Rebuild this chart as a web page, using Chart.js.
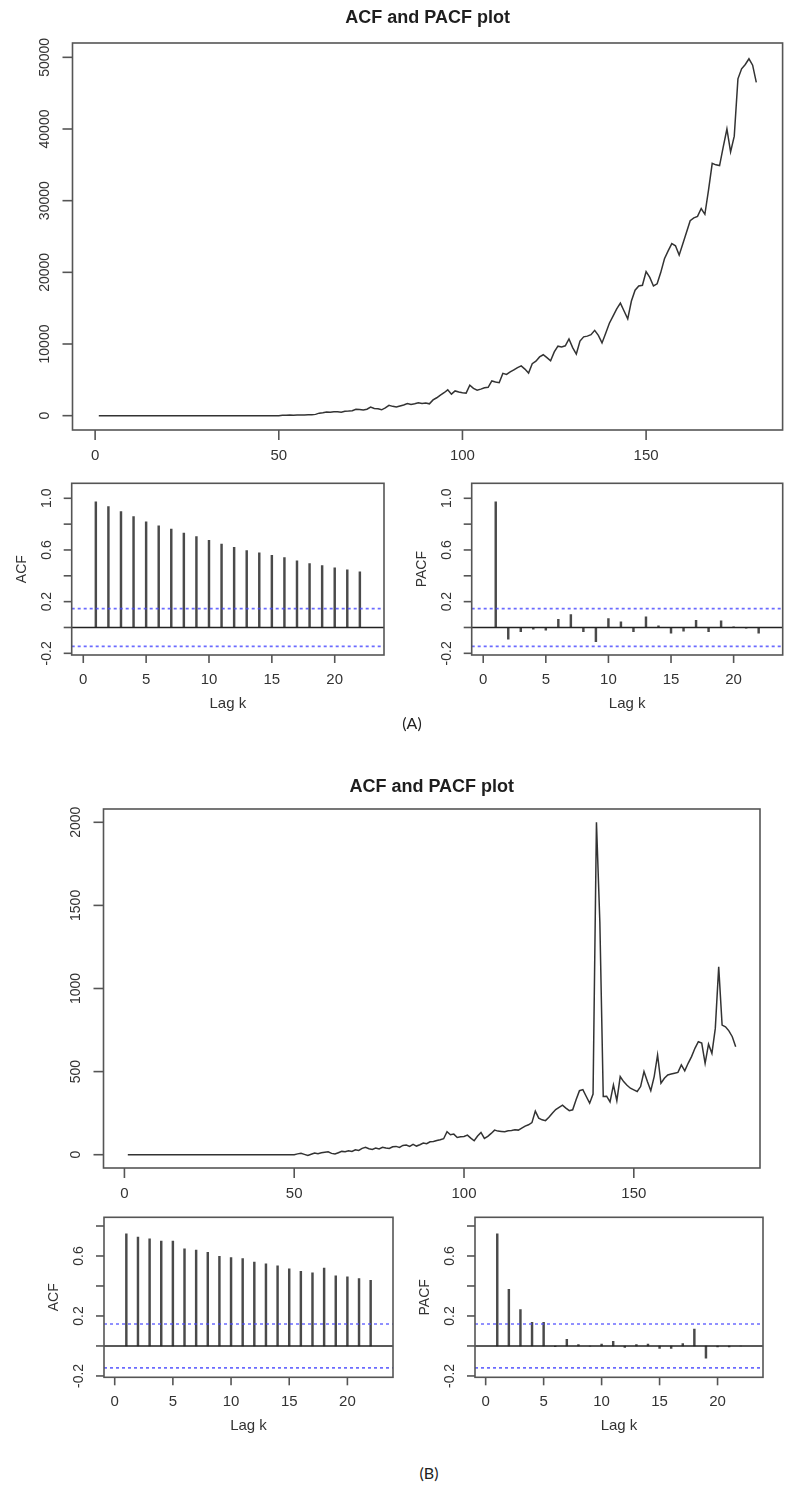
<!DOCTYPE html>
<html>
<head>
<meta charset="utf-8">
<title>ACF and PACF plot</title>
<script src="https://cdn.jsdelivr.net/npm/chart.js@4.4.1/dist/chart.umd.min.js"></script>
<style>
  body { margin: 0; background: #fff; }
  #page { position: relative; width: 788px; height: 1490px; background: #fff; overflow: hidden; }
  #page canvas { position: absolute; }
  .tag { position: absolute; font: 16px Lato, "Open Sans", sans-serif; color: #222; transform: translate(-50%, -50%); }
</style>
</head>
<body>
<div id="page">
  <canvas id="seriesA"></canvas>
  <canvas id="acfA"></canvas>
  <canvas id="pacfA"></canvas>
  <canvas id="seriesB"></canvas>
  <canvas id="acfB"></canvas>
  <canvas id="pacfB"></canvas>
  <div class="tag" style="left:412px;top:722px">(A)</div>
  <div class="tag" style="left:429px;top:1472px">(B)</div>
</div>
<script>
// monthly series, t = 1..180
const seriesAValues = [
  0,0,0,0,0,0,0,0,0,0, 0,0,0,0,0,0,0,0,0,0,
  0,0,0,0,0,0,0,0,0,0, 0,0,0,0,0,0,0,0,0,0,
  0,0,0,0,0,0,0,0,0,0,
  60,70,80,75,90,100,110,120,140,180,
  350,420,520,480,560,530,480,600,640,700,
  900,850,800,900,1200,1000,950,820,1100,1450,
  1300,1200,1350,1500,1700,1550,1650,1800,1700,1750,
  1650,2200,2500,2850,3200,3600,3000,3450,3300,3200,
  3150,4250,3800,3550,3700,3900,3950,4850,4700,4600,
  5900,5750,6100,6400,6700,6950,6500,5950,7250,7600,
  8200,8500,8100,7650,8900,9700,9600,9750,10700,9500,
  8600,10400,11000,11100,11300,11900,11200,10150,11500,12900,
  13900,14900,15700,14600,13500,16000,17500,18100,18200,20100,
  19300,18100,18400,20000,21900,23000,24000,23700,22400,24000,
  25600,27200,27600,27800,28900,28100,31500,35200,35000,34900,
  37500,40000,36800,39000,47000,48400,49000,49800,48900,46500
];
const seriesBValues = [
  0,0,0,0,0,0,0,0,0,0, 0,0,0,0,0,0,0,0,0,0,
  0,0,0,0,0,0,0,0,0,0, 0,0,0,0,0,0,0,0,0,0,
  0,0,0,0,0,0,0,0,0,0,
  5,8,2,-5,3,10,6,12,15,18,
  8,4,12,20,18,24,20,30,26,38,
  44,36,32,40,35,45,40,38,48,50,
  44,56,58,50,62,52,60,70,66,78,
  80,86,90,96,138,120,124,104,108,110,
  118,100,84,112,134,98,110,128,148,142,
  140,138,144,146,150,148,160,172,180,193,
  262,220,210,205,225,250,272,285,298,280,
  265,270,330,385,392,350,310,365,2000,1400,
  350,352,318,420,325,470,440,418,400,390,
  380,410,500,440,385,470,600,430,460,480,
  485,490,495,540,505,550,590,640,680,672,
  550,665,610,760,1130,780,770,745,710,650
];

const lags = [1,2,3,4,5,6,7,8,9,10,11,12,13,14,15,16,17,18,19,20,21,22];
const acfAValues  = [0.972,0.936,0.897,0.859,0.818,0.787,0.762,0.731,0.703,0.674,0.646,0.621,0.595,0.577,0.559,0.541,0.515,0.495,0.479,0.462,0.446,0.431];
const pacfAValues = [0.972,-0.090,-0.033,-0.013,-0.020,0.064,0.100,-0.033,-0.110,0.069,0.044,-0.033,0.082,0.013,-0.044,-0.028,0.056,-0.033,0.051,0.005,-0.005,-0.044];
const acfBValues  = [0.748,0.726,0.715,0.699,0.699,0.647,0.640,0.625,0.598,0.589,0.582,0.560,0.548,0.535,0.515,0.497,0.488,0.519,0.467,0.461,0.449,0.438];
const pacfBValues = [0.748,0.378,0.243,0.157,0.157,-0.004,0.045,0.009,-0.002,0.013,0.031,-0.009,0.009,0.013,-0.016,-0.016,0.016,0.112,-0.081,-0.007,-0.007,0.000];
const confLimit = 0.146;   // 1.96 / sqrt(180)

const timeTicks = [0, 50, 100, 150];
const seriesATicks = [0, 10000, 20000, 30000, 40000, 50000];
const seriesBTicks = [0, 500, 1000, 1500, 2000];
const lagTicks = [0, 5, 10, 15, 20];
const corrTicksA = [-0.2, 0, 0.2, 0.4, 0.6, 0.8, 1.0];
const corrLabelsA = ['-0.2', '', '0.2', '', '0.6', '', '1.0'];
const corrTicksB = [-0.2, 0, 0.2, 0.4, 0.6, 0.8];
const corrLabelsB = ['-0.2', '', '0.2', '', '0.6', ''];

const FONT = '"Liberation Sans", Arial, Helvetica, sans-serif';
const lagRange = [-0.92, 23.92];

// base-graphics look: box, outward ticks, rotated y labels
const rStyle = {
  id: 'rStyle',
  afterDraw(chart, args, o) {
    const { ctx, chartArea: a, scales: { x, y } } = chart;
    ctx.save();
    ctx.strokeStyle = '#555';
    ctx.lineWidth = 1.6;
    ctx.strokeRect(a.left, a.top, a.right - a.left, a.bottom - a.top);

    ctx.fillStyle = '#333';
    ctx.font = '15px ' + FONT;
    ctx.textAlign = 'center';
    ctx.textBaseline = 'middle';
    o.xTicks.forEach(v => {
      const px = x.getPixelForValue(v);
      ctx.beginPath(); ctx.moveTo(px, a.bottom); ctx.lineTo(px, a.bottom + o.tick); ctx.stroke();
      ctx.fillText(String(v), px, a.bottom + o.xGap);
    });
    o.yTicks.forEach((v, i) => {
      const py = y.getPixelForValue(v);
      ctx.beginPath(); ctx.moveTo(a.left, py); ctx.lineTo(a.left - o.tick, py); ctx.stroke();
      const lab = o.yLabels ? o.yLabels[i] : String(v);
      if (!lab) return;
      ctx.save();
      ctx.translate(a.left - o.yGap, py);
      ctx.rotate(-Math.PI / 2);
      ctx.font = '14px ' + FONT;
      ctx.fillText(lab, 0, 0);
      ctx.restore();
    });
    const cx = (a.left + a.right) / 2, cy = (a.top + a.bottom) / 2;
    if (o.xTitle) ctx.fillText(o.xTitle, cx, a.bottom + 49);
    if (o.yTitle) {
      ctx.save();
      ctx.translate(a.left - 50, cy);
      ctx.rotate(-Math.PI / 2);
      ctx.font = '14px ' + FONT;
      ctx.fillText(o.yTitle, 0, 0);
      ctx.restore();
    }
    if (o.title) {
      ctx.fillStyle = '#1e1e1e';
      ctx.font = 'bold 18px ' + FONT;
      ctx.fillText(o.title, cx, a.top - o.titleGap);
    }
    ctx.restore();
  }
};

// place a canvas on the page and return padding that puts the plot box on `frame`
function place(id, box, frame) {
  const c = document.getElementById(id);
  c.width = box.w; c.height = box.h;
  c.style.left = box.left + 'px'; c.style.top = box.top + 'px';
  return {
    canvas: c,
    padding: { left: frame.l - box.left, top: frame.t - box.top, right: box.left + box.w - frame.r, bottom: box.top + box.h - frame.b }
  };
}

function baseOptions(padding, xr, yr, style) {
  return {
    responsive: false,
    animation: false,
    events: [],
    layout: { padding },
    scales: {
      x: { type: 'linear', min: xr[0], max: xr[1], offset: false, display: false },
      y: { type: 'linear', min: yr[0], max: yr[1], display: false }
    },
    plugins: { legend: { display: false }, tooltip: { enabled: false }, rStyle: style }
  };
}

function seriesChart(id, box, frame, values, yr, yTicks, titleGap) {
  const p = place(id, box, frame);
  return new Chart(p.canvas, {
    type: 'line',
    data: {
      datasets: [{
        data: values.map((v, i) => ({ x: i + 1, y: v })),
        borderColor: '#333', borderWidth: 1.5, pointRadius: 0, tension: 0, fill: false
      }]
    },
    options: baseOptions(p.padding, [-6.16, 187.16], yr,
      { xTicks: timeTicks, yTicks, tick: 10, xGap: 26, yGap: 27, title: 'ACF and PACF plot', titleGap }),
    plugins: [rStyle]
  });
}

function corrChart(id, box, frame, values, yr, yTicks, yLabels, yTitle) {
  const p = place(id, box, frame);
  const flat = v => [{ x: lagRange[0], y: v }, { x: lagRange[1], y: v }];
  const dashed = { type: 'line', borderColor: 'rgba(70,70,255,0.8)', borderWidth: 1.6, borderDash: [3, 3], pointRadius: 0, order: 1 };
  return new Chart(p.canvas, {
    type: 'bar',
    data: {
      datasets: [
        { type: 'bar', data: lags.map((k, i) => ({ x: k, y: values[i] })), backgroundColor: '#4a4a4a', barThickness: 1.8, order: 3 },
        { type: 'line', data: flat(0), borderColor: '#222', borderWidth: 1.5, pointRadius: 0, order: 2 },
        Object.assign({ data: flat(confLimit) }, dashed),
        Object.assign({ data: flat(-confLimit) }, dashed)
      ]
    },
    options: baseOptions(p.padding, lagRange, yr,
      { xTicks: lagTicks, yTicks, yLabels, tick: 8, xGap: 25, yGap: 25, xTitle: 'Lag k', yTitle }),
    plugins: [rStyle]
  });
}

seriesChart('seriesA', { left: 0, top: 0, w: 788, h: 475 }, { l: 72.5, t: 43, r: 782.6, b: 430 },
  seriesAValues, [-2000, 52000], seriesATicks, 25);
corrChart('acfA', { left: 0, top: 470, w: 400, h: 250 }, { l: 71.7, t: 483.3, r: 384, b: 655 },
  acfAValues, [-0.213, 1.116], corrTicksA, corrLabelsA, 'ACF');
corrChart('pacfA', { left: 395, top: 470, w: 393, h: 250 }, { l: 471.7, t: 483.3, r: 782.7, b: 655 },
  pacfAValues, [-0.213, 1.116], corrTicksA, corrLabelsA, 'PACF');

seriesChart('seriesB', { left: 0, top: 760, w: 788, h: 450 }, { l: 103.5, t: 809, r: 760, b: 1168 },
  seriesBValues, [-80, 2080], seriesBTicks, 22);
corrChart('acfB', { left: 0, top: 1200, w: 400, h: 250 }, { l: 104, t: 1217.3, r: 393, b: 1377.3 },
  acfBValues, [-0.209, 0.858], corrTicksB, corrLabelsB, 'ACF');
corrChart('pacfB', { left: 395, top: 1200, w: 393, h: 250 }, { l: 475, t: 1217.3, r: 763, b: 1377.3 },
  pacfBValues, [-0.209, 0.858], corrTicksB, corrLabelsB, 'PACF');
</script>
</body>
</html>
